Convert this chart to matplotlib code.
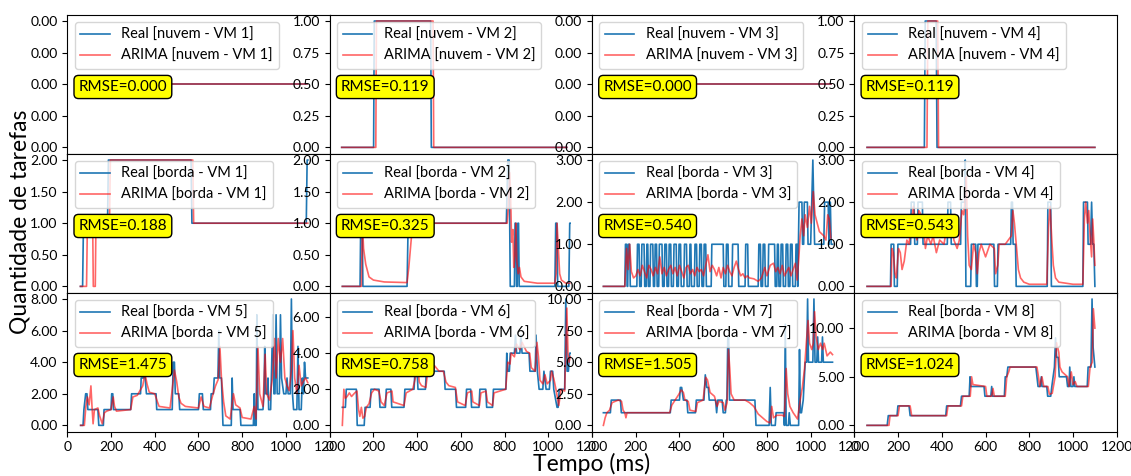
import matplotlib
matplotlib.use("Agg")
import matplotlib.pyplot as plt
from matplotlib.ticker import FormatStrFormatter, FuncFormatter

plt.rcParams["font.family"] = ["Lato", "DejaVu Sans"]

vm_names = ["nuvem - VM 1", "nuvem - VM 2", "nuvem - VM 3", "nuvem - VM 4",
            "borda - VM 1", "borda - VM 2", "borda - VM 3", "borda - VM 4",
            "borda - VM 5", "borda - VM 6", "borda - VM 7", "borda - VM 8"]
rmse = [0.000, 0.119, 0.000, 0.119,
        0.188, 0.325, 0.540, 0.543,
        1.475, 0.758, 1.505, 1.024]
x_ticks = [0, 200, 400, 600, 800, 1000, 1200]

# (tempo, tarefas) samples for each VM
real_nuvem_1 = [(50, 0), (1095, 0)]
arima_nuvem_1 = [(50, 0), (1095, 0)]
real_nuvem_2 = [(55, 0), (201, 0), (204, 1), (462, 1), (465, 0), (1085, 0)]
arima_nuvem_2 = [(55, 0), (211, 0), (214, 1), (473, 1), (476, 0), (1085, 0)]
real_nuvem_3 = [(50, 0), (1095, 0)]
arima_nuvem_3 = [(50, 0), (1095, 0)]
real_nuvem_4 = [(58, 0), (320, 0), (324, 1), (374, 1), (378, 0), (1100, 0)]
arima_nuvem_4 = [(58, 0), (332, 0), (336, 1), (381, 1), (385, 0), (1100, 0)]

real_borda_1 = [(60, 0), (70, 0), (74, 1), (184, 1), (188, 2), (566, 2), (570, 1),
                (1093, 1), (1097, 2), (1100, 2)]
arima_borda_1 = [(60, 0), (88, 0), (92, 1), (116, 1), (119, 0), (128, 0), (131, 1),
                 (193, 1), (197, 2), (574, 2), (578, 1), (1100, 1)]

real_borda_2 = [(58, 0), (139, 0), (142, 1), (149, 1), (152, 0), (354, 0), (359, 1),
                (808, 1), (815, 2), (821, 2), (826, 0), (845, 0), (848, 1), (852, 1),
                (855, 0), (858, 0), (861, 1), (864, 1), (867, 0), (1030, 0), (1034, 1),
                (1039, 1), (1043, 0), (1094, 0), (1098, 1), (1100, 1)]
arima_borda_2 = [(58, 0), (145, 0), (150, 1.0), (155, 0.6), (165, 0.35), (180, 0.15),
                 (200, 0.1), (250, 0.07), (354, 0.06), (362, 0.3), (372, 0.7),
                 (380, 1.0), (812, 1.0), (818, 1.3), (824, 1.8), (828, 1.4), (832, 0.7),
                 (838, 0.9), (842, 0.3), (848, 0.5), (852, 1.0), (856, 0.4), (862, 0.2),
                 (868, 0.3), (875, 0.15), (890, 0.08), (950, 0.05), (1030, 0.05),
                 (1036, 0.2), (1040, 1.0), (1046, 0.6), (1052, 0.2), (1060, 0.1),
                 (1080, 0.05), (1098, 0.05)]

real_borda_3 = [(52, 0), (150, 0), (153, 1), (158, 1), (161, 0), (163, 0), (166, 1),
                (172, 1), (175, 0), (205, 0), (208, 1), (215, 1), (218, 0), (225, 0),
                (228, 1), (238, 1), (241, 0), (248, 0), (251, 1), (255, 1), (258, 0),
                (265, 0), (268, 1), (278, 1), (281, 0), (286, 0), (289, 1), (295, 1),
                (298, 0), (305, 0), (308, 1), (320, 1), (323, 0), (330, 0), (333, 1),
                (340, 1), (343, 0), (350, 0), (353, 1), (360, 1), (363, 0), (372, 0),
                (375, 1), (385, 1), (388, 0), (395, 0), (398, 1), (405, 1), (408, 0),
                (420, 0), (423, 1), (432, 1), (435, 0), (445, 0), (448, 1), (452, 1),
                (455, 0), (468, 0), (471, 1), (478, 1), (481, 0), (490, 0), (493, 1),
                (500, 1), (503, 0), (510, 0), (513, 1), (520, 1), (523, 0), (545, 0),
                (548, 1), (600, 1), (603, 0), (612, 0), (615, 1), (622, 1), (625, 0),
                (640, 0), (643, 1), (668, 1), (671, 0), (700, 0), (703, 1), (712, 1),
                (715, 0), (760, 0), (763, 1), (770, 1), (773, 0), (780, 0), (783, 1),
                (790, 1), (793, 0), (805, 0), (808, 1), (835, 1), (838, 0), (845, 0),
                (848, 1), (852, 1), (855, 0), (862, 0), (865, 1), (872, 1), (875, 0),
                (885, 0), (888, 1), (895, 1), (898, 0), (905, 0), (908, 1), (915, 1),
                (918, 0), (930, 0), (933, 1), (938, 1), (941, 0), (944, 1), (947, 2),
                (960, 2), (963, 1), (968, 1), (971, 2), (985, 2), (988, 1), (1000, 1),
                (1005, 2), (1010, 3), (1014, 2), (1018, 1), (1060, 1), (1064, 2),
                (1080, 2), (1084, 1), (1086, 2), (1090, 2), (1094, 1), (1100, 1)]
arima_borda_3 = [(52, 0), (150, 0), (158, 0.9), (165, 0.4), (172, 1.0), (180, 0.35),
                 (190, 0.2), (200, 0.25), (210, 0.4), (220, 0.25), (230, 0.5),
                 (240, 0.35), (250, 0.2), (260, 0.5), (270, 0.4), (280, 0.25),
                 (290, 0.45), (300, 0.3), (310, 0.7), (320, 0.3), (330, 0.45),
                 (340, 0.25), (350, 0.4), (360, 0.5), (370, 0.3), (380, 0.45),
                 (390, 0.25), (400, 0.5), (410, 0.35), (420, 0.2), (430, 0.45),
                 (440, 0.5), (450, 0.3), (460, 0.4), (470, 0.25), (480, 0.45),
                 (490, 0.35), (500, 0.4), (510, 0.25), (520, 0.5), (530, 0.75),
                 (540, 0.35), (550, 0.5), (560, 0.4), (570, 0.25), (580, 0.45),
                 (590, 0.2), (600, 0.45), (610, 0.3), (620, 0.5), (630, 0.35),
                 (640, 0.25), (650, 0.45), (660, 0.6), (670, 0.4), (680, 0.25),
                 (690, 0.3), (700, 0.2), (710, 0.25), (720, 0.2), (740, 0.18),
                 (760, 0.12), (775, 0.2), (790, 0.45), (800, 0.25), (815, 0.5),
                 (830, 0.55), (840, 0.35), (850, 0.45), (860, 0.3), (870, 0.5),
                 (880, 0.25), (890, 0.35), (900, 0.45), (910, 0.25), (920, 0.4),
                 (930, 0.55), (938, 0.15), (945, 0.6), (952, 1.2), (960, 1.6),
                 (968, 1.2), (975, 1.7), (985, 1.4), (995, 1.9), (1003, 1.5),
                 (1012, 2.25), (1020, 1.7), (1030, 1.5), (1040, 1.3), (1050, 1.25),
                 (1060, 1.2), (1070, 1.1), (1078, 1.7), (1085, 1.6), (1092, 1.15)]

real_borda_4 = [(58, 0), (165, 0), (168, 1), (180, 1), (183, 0), (196, 0), (199, 1),
                (257, 1), (260, 2), (273, 2), (276, 1), (288, 1), (291, 2), (311, 2),
                (314, 1), (425, 1), (428, 2), (440, 2), (443, 1), (486, 1), (489, 2),
                (504, 2), (507, 3), (510, 0), (532, 0), (535, 1), (555, 1), (558, 0),
                (562, 0), (565, 1), (638, 1), (641, 0), (654, 0), (657, 1), (715, 1),
                (718, 2), (723, 2), (726, 1), (737, 1), (740, 0), (882, 0), (885, 2),
                (898, 2), (901, 0), (1045, 0), (1048, 2), (1066, 2), (1069, 1),
                (1080, 1), (1085, 2), (1090, 1), (1095, 1), (1100, 0)]
arima_borda_4 = [(58, 0), (168, 0), (172, 0.9), (178, 0.8), (186, 0.3), (192, 0.2),
                 (202, 0.9), (210, 0.8), (218, 0.4), (228, 0.6), (240, 1.1),
                 (250, 1.0), (262, 1.6), (270, 1.9), (278, 1.3), (286, 1.1),
                 (295, 1.8), (305, 1.7), (316, 1.4), (325, 0.9), (335, 1.2),
                 (350, 1.0), (360, 1.2), (375, 0.8), (390, 1.1), (410, 1.0),
                 (430, 1.7), (445, 1.5), (455, 1.1), (470, 0.9), (480, 1.1),
                 (492, 1.8), (500, 1.7), (508, 2.2), (512, 2.6), (518, 1.2),
                 (525, 0.5), (535, 0.4), (545, 1.0), (555, 0.8), (562, 0.3),
                 (570, 0.8), (580, 1.0), (600, 0.7), (620, 1.0), (640, 0.9),
                 (646, 0.3), (656, 0.5), (662, 1.0), (690, 1.0), (718, 1.2),
                 (725, 1.8), (732, 1.5), (742, 0.9), (750, 0.4), (760, 0.2),
                 (775, 0.1), (800, 0.05), (880, 0.05), (888, 1.4), (895, 1.9),
                 (903, 1.1), (910, 0.5), (920, 0.2), (935, 0.1), (1000, 0.05),
                 (1045, 0.05), (1052, 1.6), (1058, 2.0), (1066, 1.5), (1072, 1.8),
                 (1078, 1.2), (1085, 0.7), (1090, 1.6), (1095, 1.1), (1100, 0.5)]

real_borda_5 = [(61, 0), (72, 0), (76, 1), (84, 2), (90, 2), (94, 1), (140, 1),
                (144, 0), (165, 0), (168, 1), (200, 1), (203, 2), (208, 2), (211, 1),
                (290, 1), (294, 2), (335, 2), (338, 3), (348, 3), (352, 4), (356, 3),
                (362, 2), (406, 2), (409, 1), (480, 1), (484, 4), (490, 4), (494, 2),
                (510, 2), (514, 1), (600, 1), (604, 2), (618, 2), (622, 1), (655, 1),
                (658, 2), (668, 2), (672, 3), (689, 3), (693, 6), (697, 3), (705, 3),
                (712, 0), (750, 0), (754, 3), (758, 1), (790, 1), (794, 0), (851, 0),
                (855, 2), (858, 0), (864, 0), (867, 7), (872, 1), (895, 1), (900, 2),
                (903, 5), (907, 2), (915, 2), (918, 3), (921, 1), (930, 1), (935, 4),
                (940, 7), (945, 2), (950, 2), (955, 7), (960, 2), (970, 2), (975, 7),
                (980, 3), (990, 2), (1000, 2), (1005, 3), (1010, 2), (1020, 2),
                (1025, 8), (1030, 2), (1035, 1), (1050, 1), (1055, 5), (1060, 1),
                (1070, 1), (1075, 3), (1080, 2), (1085, 4), (1090, 3), (1100, 3)]
arima_borda_5 = [(61, 0), (78, 0), (85, 1.2), (92, 1.8), (100, 1.3), (108, 2.5),
                 (113, 1.2), (118, 0.1), (124, 1.0), (140, 1.1), (148, 0.6),
                 (160, 0.1), (170, 0.8), (180, 0.9), (200, 1.0), (210, 1.8),
                 (216, 1.2), (225, 0.9), (290, 1.0), (300, 1.8), (320, 1.9),
                 (345, 2.5), (355, 3.3), (365, 2.6), (375, 2.1), (400, 2.0),
                 (412, 1.5), (420, 1.2), (470, 1.1), (490, 3.5), (500, 2.8),
                 (510, 1.8), (520, 1.4), (540, 1.2), (600, 1.1), (612, 1.8),
                 (625, 1.2), (650, 1.1), (665, 1.9), (678, 2.5), (690, 2.9),
                 (698, 5.0), (705, 3.0), (715, 1.5), (725, 0.6), (745, 0.4),
                 (760, 2.0), (770, 1.3), (790, 1.1), (800, 0.5), (840, 0.4),
                 (855, 1.2), (863, 0.4), (872, 5.0), (880, 2.0), (895, 1.2),
                 (905, 4.5), (912, 2.0), (925, 1.6), (938, 3.0), (948, 5.5),
                 (955, 3.0), (965, 5.5), (975, 4.0), (985, 5.5), (995, 3.0),
                 (1005, 2.5), (1015, 2.2), (1025, 3.5), (1032, 6.0), (1040, 3.0),
                 (1050, 2.0), (1060, 3.8), (1070, 2.5), (1080, 2.8), (1090, 3.0),
                 (1100, 2.7)]

real_borda_6 = [(58, 1), (72, 1), (76, 2), (122, 2), (126, 0), (158, 0), (162, 1),
                (185, 1), (189, 2), (226, 2), (230, 1), (255, 1), (259, 2), (280, 2),
                (284, 1), (340, 1), (344, 2), (386, 2), (390, 3), (400, 3), (404, 2),
                (438, 2), (442, 3), (524, 3), (528, 2), (576, 2), (580, 1), (622, 1),
                (626, 2), (645, 2), (649, 1), (683, 1), (687, 2), (714, 2), (718, 1),
                (745, 1), (749, 2), (806, 2), (810, 4), (815, 3), (822, 3), (826, 4),
                (845, 4), (850, 5), (855, 4), (870, 4), (875, 5), (880, 4), (912, 4),
                (916, 3), (940, 3), (944, 5), (950, 3), (958, 2), (975, 2), (980, 3),
                (990, 2), (1005, 2), (1010, 3), (1020, 3), (1025, 2), (1040, 1),
                (1045, 1), (1050, 2), (1075, 2), (1080, 7), (1086, 3), (1092, 3),
                (1098, 4), (1100, 4)]
arima_borda_6 = [(58, 0), (65, 2.0), (72, 1.5), (80, 1.6), (90, 1.8), (100, 1.6),
                 (115, 1.8), (125, 1.9), (132, 0.9), (138, 0.5), (145, 1.0),
                 (152, 0.4), (160, 0.5), (168, 1.0), (180, 1.2), (192, 1.8),
                 (205, 2.0), (225, 1.9), (235, 1.3), (250, 1.1), (262, 1.8),
                 (285, 1.9), (290, 1.3), (340, 1.1), (350, 1.8), (380, 2.0),
                 (395, 2.8), (404, 3.1), (410, 2.4), (420, 2.2), (440, 2.1),
                 (448, 2.9), (470, 2.9), (480, 3.3), (500, 3.0), (520, 3.0),
                 (532, 2.4), (545, 2.2), (575, 2.1), (585, 1.3), (620, 1.1),
                 (630, 1.8), (650, 1.9), (655, 1.3), (685, 1.1), (692, 1.8),
                 (715, 1.9), (722, 1.3), (745, 1.1), (752, 1.8), (805, 2.0),
                 (815, 3.5), (825, 3.4), (830, 4.0), (845, 3.8), (855, 4.5),
                 (870, 4.2), (880, 4.6), (900, 4.1), (915, 4.0), (922, 3.2),
                 (940, 3.0), (948, 4.6), (955, 3.8), (962, 2.5), (975, 2.3),
                 (985, 2.8), (995, 2.3), (1010, 2.5), (1015, 3.0), (1025, 2.6),
                 (1035, 2.0), (1048, 1.1), (1058, 2.0), (1075, 1.9), (1085, 6.5),
                 (1090, 4.0), (1095, 3.5), (1100, 3.8)]

real_borda_7 = [(52, 1), (84, 1), (88, 2), (130, 2), (134, 1), (358, 1), (362, 2),
                (400, 2), (404, 3), (410, 3), (418, 2), (434, 2), (438, 1), (473, 1),
                (477, 2), (512, 2), (518, 4), (525, 3), (532, 3), (536, 2), (565, 2),
                (570, 1), (575, 2), (595, 2), (600, 1), (610, 1), (614, 2), (617, 2),
                (621, 7), (625, 7), (629, 2), (745, 2), (750, 0), (810, 0), (815, 3),
                (820, 0), (838, 0), (842, 1), (876, 1), (880, 0), (884, 8), (888, 0),
                (898, 0), (902, 1), (907, 0), (945, 0), (949, 6), (953, 1), (958, 1),
                (966, 2), (975, 5), (982, 5), (986, 10), (990, 5), (1010, 5),
                (1015, 10), (1020, 5), (1028, 5), (1032, 7), (1036, 5), (1050, 5),
                (1054, 7), (1058, 5), (1100, 5)]
arima_borda_7 = [(52, 0), (60, 0.6), (68, 1.0), (80, 1.2), (92, 1.8), (120, 2.0),
                 (135, 1.9), (142, 1.2), (150, 1.0), (155, 0.6), (160, 1.0),
                 (355, 1.0), (365, 1.6), (380, 2.0), (395, 2.4), (408, 2.8),
                 (418, 2.6), (425, 2.0), (440, 1.9), (448, 1.2), (475, 1.1),
                 (482, 1.8), (508, 2.0), (520, 3.8), (528, 3.6), (540, 2.6),
                 (560, 2.3), (572, 1.5), (580, 1.9), (600, 1.8), (608, 1.2),
                 (618, 1.8), (624, 6.0), (630, 4.5), (636, 2.5), (650, 2.0),
                 (700, 2.0), (720, 1.8), (740, 1.5), (760, 0.9), (780, 0.6),
                 (800, 0.3), (815, 0.2), (822, 1.5), (830, 0.6), (845, 0.8),
                 (870, 0.8), (880, 0.7), (888, 4.5), (895, 2.5), (905, 1.5),
                 (920, 1.0), (940, 0.5), (952, 2.0), (962, 3.0), (972, 4.5),
                 (980, 6.5), (988, 8.3), (995, 6.5), (1005, 6.0), (1012, 6.5),
                 (1018, 9.0), (1025, 7.0), (1035, 6.0), (1045, 6.5), (1055, 6.0),
                 (1062, 6.5), (1075, 5.5), (1090, 5.8), (1100, 5.6)]

real_borda_8 = [(58, 0), (150, 0), (155, 1), (195, 1), (199, 2), (250, 2), (255, 1),
                (418, 1), (422, 2), (485, 2), (490, 3), (525, 3), (529, 5), (532, 4),
                (593, 4), (597, 3), (624, 3), (628, 4), (632, 3), (686, 3), (690, 5),
                (697, 5), (702, 6), (830, 6), (835, 5), (840, 4), (850, 4), (855, 5),
                (858, 4), (880, 4), (884, 3), (898, 3), (903, 4), (915, 6), (920, 9),
                (925, 7), (932, 7), (937, 5), (970, 5), (975, 4), (982, 4), (985, 6),
                (990, 4), (1000, 4), (1004, 5), (1008, 4), (1065, 4), (1069, 6),
                (1082, 6), (1087, 13), (1092, 8), (1100, 6)]
arima_borda_8 = [(58, 0), (158, 0), (163, 1), (200, 1), (206, 2), (255, 2), (262, 1),
                 (422, 1), (428, 2), (490, 2), (496, 3), (530, 3), (536, 5),
                 (542, 4.2), (600, 4), (606, 3), (628, 3), (634, 3.8), (640, 3),
                 (690, 3), (697, 5), (706, 5.5), (712, 6), (835, 6), (842, 5),
                 (848, 4), (858, 5), (866, 4), (885, 4), (892, 3.2), (905, 3.3),
                 (918, 5), (925, 8.5), (935, 7.5), (940, 6), (950, 5.5), (975, 5),
                 (982, 4), (992, 5.5), (1000, 4.2), (1010, 4.5), (1018, 4),
                 (1070, 4), (1078, 6), (1088, 6.5), (1093, 12), (1100, 10)]

real_series = [real_nuvem_1, real_nuvem_2, real_nuvem_3, real_nuvem_4,
               real_borda_1, real_borda_2, real_borda_3, real_borda_4,
               real_borda_5, real_borda_6, real_borda_7, real_borda_8]
arima_series = [arima_nuvem_1, arima_nuvem_2, arima_nuvem_3, arima_nuvem_4,
                arima_borda_1, arima_borda_2, arima_borda_3, arima_borda_4,
                arima_borda_5, arima_borda_6, arima_borda_7, arima_borda_8]


def main():
    fig, axes = plt.subplots(3, 4, figsize=(11.31, 4.76), dpi=100, sharex=True)
    fig.subplots_adjust(left=0.0595, right=0.9874, top=0.9691, bottom=0.0931,
                        wspace=0, hspace=0)

    for i, ax in enumerate(axes.flat):
        t_real, y_real = zip(*real_series[i])
        t_arima, y_arima = zip(*arima_series[i])
        ax.plot(t_real, y_real, color="tab:blue", linewidth=1.2,
                label=f"Real [{vm_names[i]}]")
        ax.plot(t_arima, y_arima, color="red", alpha=0.6, linewidth=1.2,
                label=f"ARIMA [{vm_names[i]}]")

        ax.legend(loc="upper left", fontsize=10.5)
        ax.text(0.043, 0.48, f"RMSE={rmse[i]:.3f}", transform=ax.transAxes,
                fontsize=11, va="center", ha="left",
                bbox=dict(boxstyle="round", facecolor="yellow", edgecolor="black"))

        ax.set_xlim(0, 1200)
        ax.set_xticks(x_ticks)
        ax.tick_params(labelsize=10)

        # flat series: every tick shows the same level
        if max(y_real + y_arima) == min(y_real + y_arima):
            level = y_real[0]
            ax.yaxis.set_major_formatter(FuncFormatter(lambda v, _, lv=level: f"{lv:.2f}"))
        else:
            ax.yaxis.set_major_formatter(FormatStrFormatter("%.2f"))

    fig.text(0.523, 0.026, "Tempo (ms)", ha="center", va="center", fontsize=16.5)
    fig.text(0.018, 0.535, "Quantidade de tarefas", ha="center", va="center",
             rotation=90, fontsize=16.5)

    fig.savefig("out.png", dpi=100)


if __name__ == "__main__":
    main()
